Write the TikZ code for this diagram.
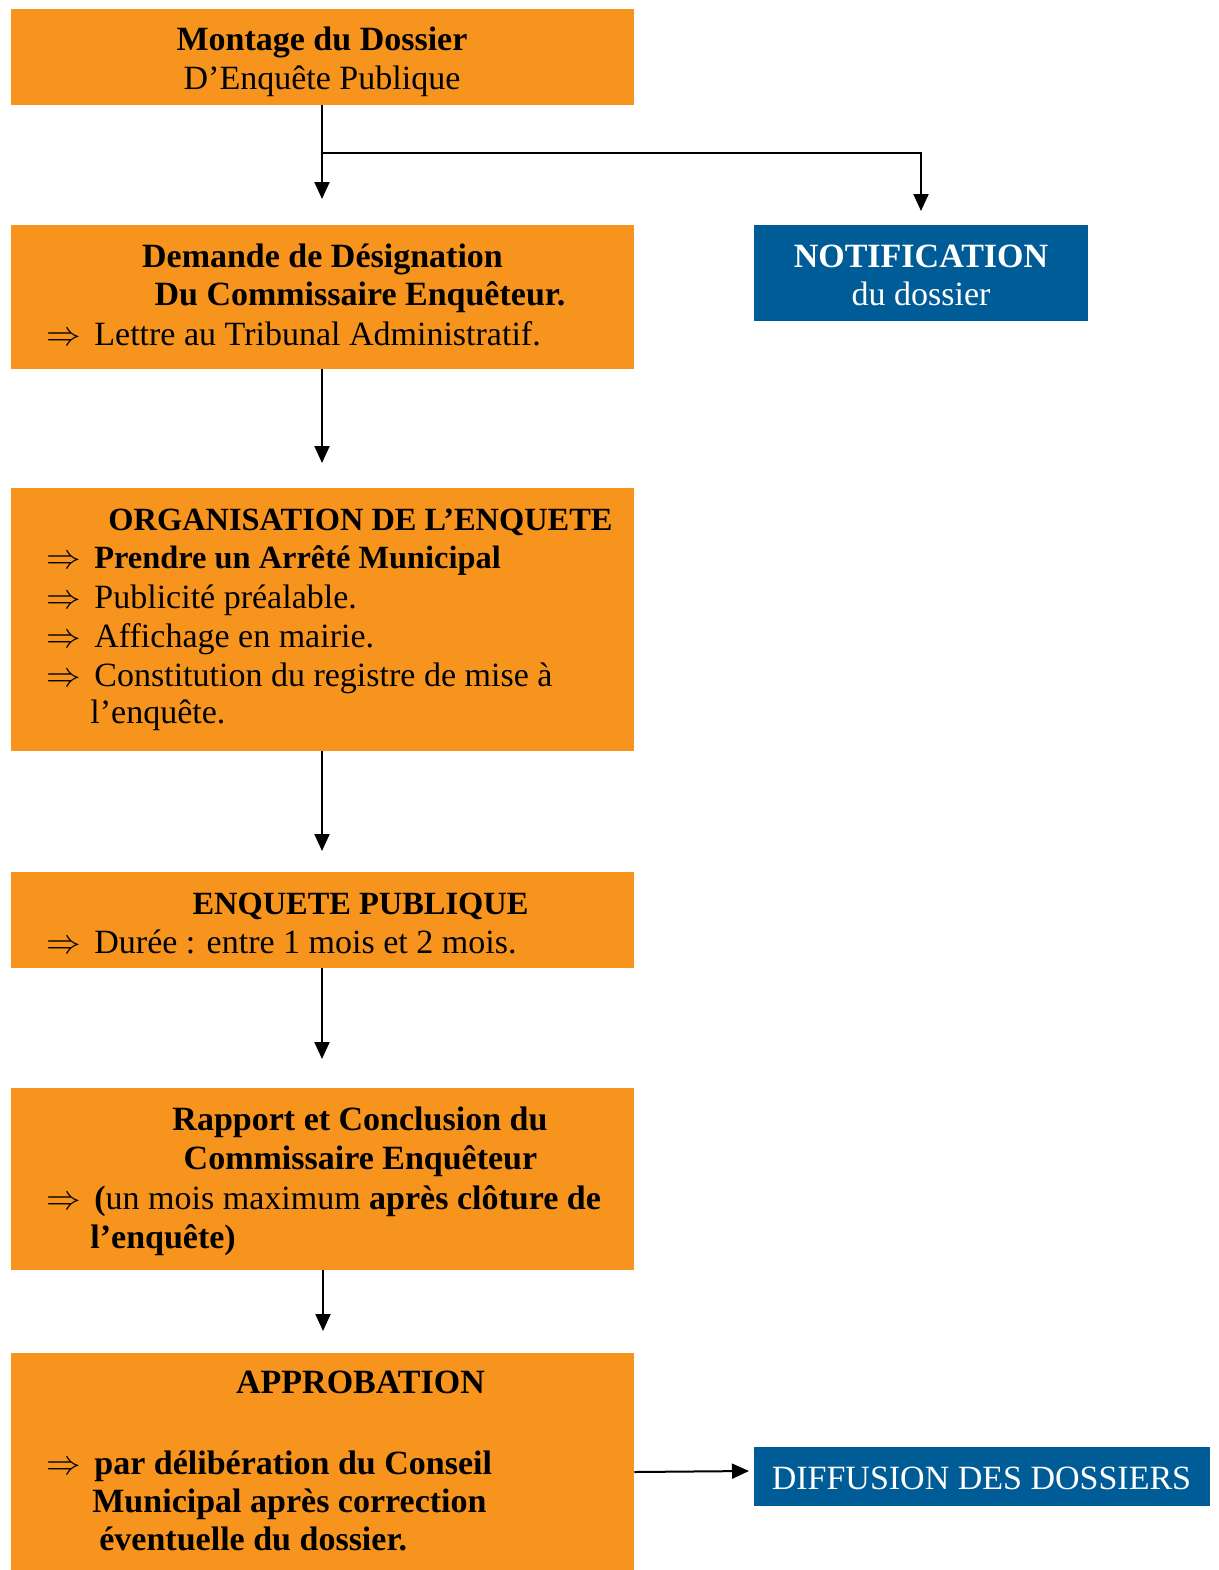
\documentclass[tikz,border=0pt]{standalone}
\usepackage{fontspec}
\setmainfont{Liberation Serif}
\usetikzlibrary{arrows.meta,fit}
\definecolor{orangebox}{RGB}{247,148,30}
\definecolor{bluebox}{RGB}{0,92,150}
\begin{document}
\begin{tikzpicture}[x=0.5pt,y=-0.5pt,
  obox/.style={fill=orangebox,draw=none,inner sep=0pt},
  bbox/.style={fill=bluebox,draw=none,inner sep=0pt},
  tr/.style={inner sep=0pt,font=\fontsize{17}{19.7}\selectfont},
  tb/.style={tr,font=\fontsize{17}{19.7}\selectfont\bfseries},
  tbn/.style={tr,font=\fontsize{16.2}{19.7}\selectfont\bfseries},
  arr/.style={line width=1pt,-{Triangle[length=8.5pt,width=7.5pt]}}]
\useasboundingbox (0,0) rectangle (1219,1570);
% boxes
\node[obox,fit={(11,9) (634,105)}] (b1) {};
\node[obox,fit={(11,225) (634,369)}] (b2) {};
\node[bbox,fit={(754,225) (1088,321)}] (n1) {};
\node[obox,fit={(11,488) (634,751)}] (b3) {};
\node[obox,fit={(11,872) (634,968)}] (b4) {};
\node[obox,fit={(11,1088) (634,1270)}] (b5) {};
\node[obox,fit={(11,1353) (634,1570)}] (b6) {};
\node[bbox,fit={(754,1447) (1210,1506)}] (d1) {};
% texts box 1
\node[tb,anchor=base] (t1a) at (322,50) {Montage du Dossier};
\node[tr,anchor=base] (t1b) at (322,89) {D'Enqu\^ete Publique};
% box 2
\node[tb,anchor=base] (t2a) at (322.5,267) {Demande de D\'esignation};
\node[tb,anchor=base] (t2b) at (360,305) {Du Commissaire Enqu\^eteur.};
\node[tr,anchor=base west] (a2c) at (46,345) {$\Rightarrow$};
\node[tr,anchor=base west] (t2c) at (94,345) {Lettre au Tribunal Administratif.};
% notification
\node[tb,anchor=base,text=white] (tn1) at (921,267) {NOTIFICATION};
\node[tr,anchor=base,text=white] (tn2) at (921,305) {du dossier};
% box 3
\node[tbn,anchor=base] (t3a) at (360.5,530) {ORGANISATION DE L'ENQUETE};
\node[tr,anchor=base west] (a3b) at (46,568) {$\Rightarrow$};
\node[tbn,anchor=base west] (t3b) at (94,568) {Prendre un Arr\^et\'e Municipal};
\node[tr,anchor=base west] (a3c) at (46,608) {$\Rightarrow$};
\node[tr,anchor=base west] (t3c) at (94,608) {Publicit\'e pr\'ealable.};
\node[tr,anchor=base west] (a3d) at (46,647) {$\Rightarrow$};
\node[tr,anchor=base west] (t3d) at (94,647) {Affichage en mairie.};
\node[tr,anchor=base west] (a3e) at (46,686) {$\Rightarrow$};
\node[tr,anchor=base west] (t3e) at (94,686) {Constitution du registre de mise \`a};
\node[tr,anchor=base west] (t3f) at (90,723) {l'enqu\^ete.};
% box 4
\node[tbn,anchor=base] (t4a) at (360.5,914) {ENQUETE PUBLIQUE};
\node[tr,anchor=base west] (a4b) at (46,953) {$\Rightarrow$};
\node[tr,anchor=base west] (t4b) at (94,953) {Dur\'ee : entre 1 mois et 2 mois.};
% box 5
\node[tb,anchor=base] (t5a) at (360,1130) {Rapport et Conclusion du};
\node[tb,anchor=base] (t5b) at (360.5,1169) {Commissaire Enqu\^eteur};
\node[tr,anchor=base west] (a5c) at (46,1209) {$\Rightarrow$};
\node[tr,anchor=base west] (t5c) at (94,1209) {\textbf{(}un mois maximum \textbf{apr\`es cl\^oture de}};
\node[tb,anchor=base west] (t5d) at (90,1248) {l'enqu\^ete)};
% box 6
\node[tb,anchor=base] (t6a) at (360.5,1393) {APPROBATION};
\node[tr,anchor=base west] (a6b) at (46,1474) {$\Rightarrow$};
\node[tb,anchor=base west] (t6b) at (94,1474) {par d\'elib\'eration du Conseil};
\node[tb,anchor=base west] (t6c) at (92,1512) {Municipal apr\`es correction};
\node[tb,anchor=base west] (t6d) at (99,1550) {\'eventuelle du dossier.};
% diffusion
\node[tr,anchor=base,text=white] (td) at (981.5,1489) {DIFFUSION DES DOSSIERS};
% connectors
\coordinate (c1) at (322,199);
\coordinate (j1) at (322,153);
\coordinate (k1) at (921,153);
\coordinate (c2) at (921,211);
\coordinate (c3) at (322,463);
\coordinate (c4) at (322,851);
\coordinate (c5) at (322,1059);
\coordinate (c6) at (323,1331);
\coordinate (c7) at (749,1471);
\draw[arr] (b1.south -| c1) -- (c1);
\draw[arr] (j1) -- (k1) -- (c2);
\draw[arr] (b2.south -| c3) -- (c3);
\draw[arr] (b3.south -| c4) -- (c4);
\draw[arr] (b4.south -| c5) -- (c5);
\draw[arr] (b5.south -| c6) -- (c6);
\draw[arr] (b6.east |- 0,1472) -- (c7);
\end{tikzpicture}
\end{document}
